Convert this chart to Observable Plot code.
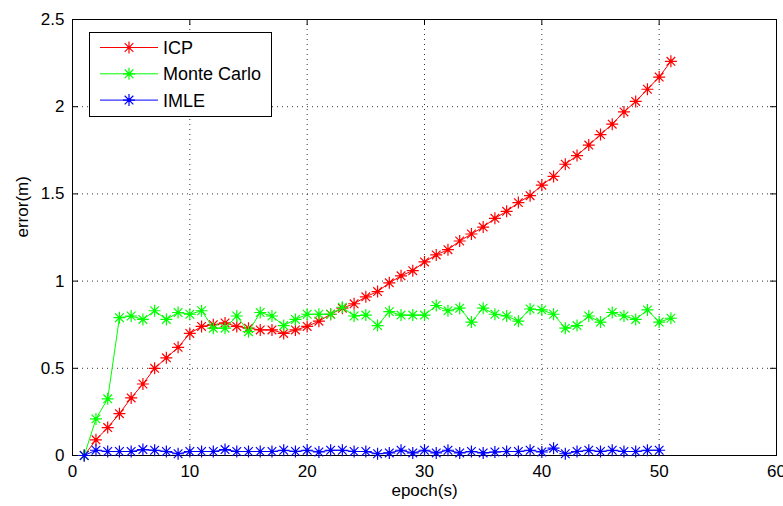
<!DOCTYPE html>
<html>
<head>
<meta charset="utf-8">
<script src="https://cdn.jsdelivr.net/npm/d3@7"></script>
<script src="https://cdn.jsdelivr.net/npm/@observablehq/plot@0.6"></script>
<style>
  body { margin: 0; background: #fff; }
  #chart svg { display: block; }
</style>
</head>
<body>
<div id="chart"></div>
<script>
// Epoch index shared by all three estimators
const epochs = [1, 2, 3, 4, 5, 6, 7, 8, 9, 10, 11, 12, 13, 14, 15, 16, 17, 18, 19, 20,
  21, 22, 23, 24, 25, 26, 27, 28, 29, 30, 31, 32, 33, 34, 35, 36, 37, 38, 39, 40,
  41, 42, 43, 44, 45, 46, 47, 48, 49, 50, 51];

// Localisation error (m) per epoch
const icpError = [0, 0.09, 0.16, 0.24, 0.33, 0.41, 0.50, 0.56, 0.62, 0.70,
  0.74, 0.75, 0.76, 0.74, 0.73, 0.72, 0.72, 0.70, 0.72, 0.74,
  0.77, 0.81, 0.845, 0.87, 0.91, 0.94, 0.99, 1.03, 1.06, 1.11,
  1.15, 1.18, 1.23, 1.27, 1.31, 1.36, 1.40, 1.45, 1.49, 1.55,
  1.60, 1.67, 1.72, 1.78, 1.84, 1.90, 1.97, 2.03, 2.10, 2.17, 2.26];
const monteCarloError = [0, 0.21, 0.325, 0.79, 0.80, 0.78, 0.83, 0.78, 0.82, 0.81,
  0.83, 0.73, 0.73, 0.80, 0.71, 0.82, 0.80, 0.745, 0.78, 0.81,
  0.81, 0.81, 0.85, 0.80, 0.805, 0.745, 0.825, 0.805, 0.805, 0.805,
  0.86, 0.83, 0.845, 0.765, 0.845, 0.81, 0.80, 0.77, 0.84, 0.835,
  0.81, 0.73, 0.745, 0.80, 0.765, 0.82, 0.80, 0.78, 0.835, 0.765, 0.787];
const imleError = [0, 0.03, 0.023, 0.023, 0.023, 0.034, 0.03, 0.023, 0.01, 0.023,
  0.023, 0.023, 0.034, 0.023, 0.023, 0.023, 0.023, 0.03, 0.023, 0.03,
  0.02, 0.03, 0.03, 0.023, 0.023, 0.01, 0.015, 0.03, 0.015, 0.03,
  0.015, 0.03, 0.015, 0.023, 0.015, 0.02, 0.023, 0.023, 0.03, 0.02,
  0.042, 0.01, 0.023, 0.03, 0.023, 0.03, 0.023, 0.023, 0.03, 0.03];

const seriesNames = ["ICP", "Monte Carlo", "IMLE"];
const seriesColors = ["#ff0000", "#00ff00", "#0000ff"];
const xTicks = [0, 10, 20, 30, 40, 50, 60];
const yTicks = [0, 0.5, 1, 1.5, 2, 2.5];
const yTickLabels = ["0", "0.5", "1", "1.5", "2", "2.5"];

const W = 783, H = 506;
const mL = 72, mR = 7, mT = 19, mB = 51;
const innerW = W - mL - mR, innerH = H - mT - mB;
const tickLen = 6;
const font = "'Liberation Sans', Arial, Helvetica, sans-serif";

// long-format table for the line and marker marks
const rows = [];
[icpError, monteCarloError, imleError].forEach((vals, i) =>
  vals.forEach((v, j) => rows.push({epoch: epochs[j], error: v, method: seriesNames[i]}))
);

// eight-armed asterisk marker
const asterisk = {
  draw(ctx, size) {
    const r = Math.sqrt(size / Math.PI);
    const d = r * 0.72;
    ctx.moveTo(-r, 0); ctx.lineTo(r, 0);
    ctx.moveTo(0, -r); ctx.lineTo(0, r);
    ctx.moveTo(-d, -d); ctx.lineTo(d, d);
    ctx.moveTo(-d, d); ctx.lineTo(d, -d);
  }
};
const markerR = 6;

const marks = [
  Plot.gridX(xTicks, {stroke: "#000", strokeOpacity: 0.8, strokeDasharray: "1,4"}),
  Plot.gridY(yTicks, {stroke: "#000", strokeOpacity: 0.8, strokeDasharray: "1,4"}),
  // inward ticks on all four sides
  Plot.tickX(xTicks, {x: d => d, stroke: "#000", insetTop: innerH - tickLen}),
  Plot.tickX(xTicks, {x: d => d, stroke: "#000", insetBottom: innerH - tickLen}),
  Plot.tickY(yTicks, {y: d => d, stroke: "#000", insetRight: innerW - tickLen}),
  Plot.tickY(yTicks, {y: d => d, stroke: "#000", insetLeft: innerW - tickLen}),
  Plot.frame({stroke: "#000"}),
  Plot.axisX({ticks: xTicks, tickSize: 0, tickPadding: 9, label: null, fontSize: 17}),
  Plot.axisY({ticks: yTicks, tickSize: 0, tickPadding: 8, label: null, fontSize: 17,
    tickFormat: d => yTickLabels[yTicks.indexOf(d)]}),
  Plot.text(["epoch(s)"], {frameAnchor: "bottom", dy: 40, fontSize: 17}),
  Plot.text(["error(m)"], {frameAnchor: "left", dx: -50, rotate: -90, fontSize: 17})
];
for (const name of seriesNames) {
  const data = rows.filter(r => r.method === name);
  marks.push(
    Plot.line(data, {x: "epoch", y: "error", stroke: "method", strokeWidth: 1}),
    Plot.dot(data, {x: "epoch", y: "error", stroke: "method", fill: "none",
      symbol: asterisk, r: markerR, strokeWidth: 1.2}),
    Plot.dot(data, {x: "epoch", y: "error", fill: "method", r: 1.8, stroke: "none"})
  );
}

const chart = Plot.plot({
  width: W, height: H,
  marginLeft: mL, marginRight: mR, marginTop: mT, marginBottom: mB,
  style: {fontFamily: font, fontSize: "17px", background: "#fff", color: "#000", overflow: "visible"},
  x: {domain: [0, 60], axis: null},
  y: {domain: [0, 2.5], axis: null},
  color: {domain: seriesNames, range: seriesColors},
  marks
});
document.getElementById("chart").append(chart);

// MATLAB-style legend box in the upper left corner
const svg = d3.select(chart);
const lg = svg.append("g").attr("font-family", font).attr("font-size", 18)
  .attr("text-anchor", "start");
lg.append("rect").attr("x", 89.5).attr("y", 32.5).attr("width", 182).attr("height", 84)
  .attr("fill", "#fff").attr("stroke", "#000");
const symPath = d3.symbol().type(asterisk).size(Math.PI * markerR * markerR)();
seriesNames.forEach((name, i) => {
  const y = 47.5 + i * 26.3;
  const c = seriesColors[i];
  lg.append("line").attr("x1", 100).attr("x2", 158).attr("y1", y).attr("y2", y)
    .attr("stroke", c).attr("stroke-width", 1);
  lg.append("path").attr("d", symPath).attr("transform", `translate(129,${y})`)
    .attr("stroke", c).attr("stroke-width", 1.2).attr("fill", "none");
  lg.append("circle").attr("cx", 129).attr("cy", y).attr("r", 1.8).attr("fill", c);
  lg.append("text").attr("x", 163).attr("y", y).attr("dy", "0.36em")
    .attr("text-anchor", "start").attr("fill", "#000").text(name);
});
</script>
</body>
</html>
